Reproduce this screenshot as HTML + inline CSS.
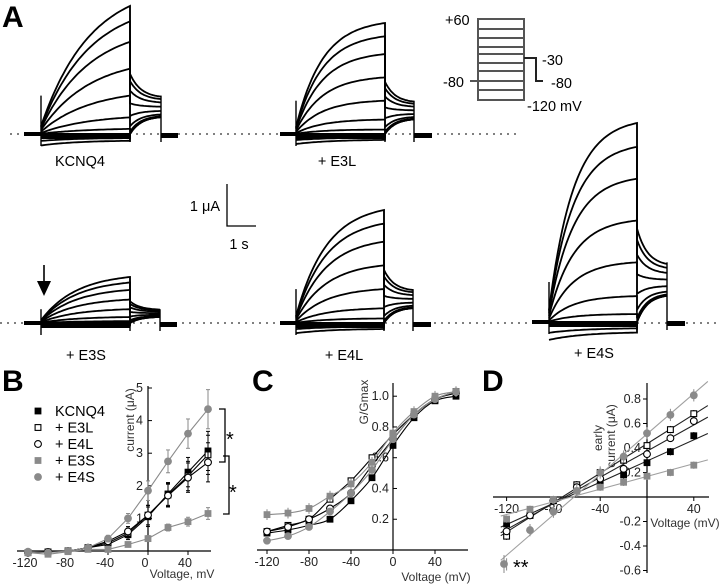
<!DOCTYPE html>
<html><head><meta charset="utf-8"><style>
html,body{margin:0;padding:0;background:#fff;}
svg{display:block;font-family:"Liberation Sans",sans-serif;}
</style></head><body>
<svg id="fig" width="720" height="586" viewBox="0 0 720 586">
<g id="panelA">
<text x="2" y="27" font-size="30" font-weight="bold">A</text>
<line x1="10" y1="134" x2="520" y2="134" stroke="#000" stroke-width="1" stroke-dasharray="2,5"/>
<line x1="0" y1="323" x2="720" y2="323" stroke="#000" stroke-width="1" stroke-dasharray="2,5"/>
<text x="80" y="166" font-size="14.5" text-anchor="middle">KCNQ4</text>
<text x="337" y="166" font-size="14.5" text-anchor="middle">+ E3L</text>
<text x="86" y="360" font-size="14.5" text-anchor="middle">+ E3S</text>
<text x="344" y="360" font-size="14.5" text-anchor="middle">+ E4L</text>
<text x="594" y="358" font-size="14.5" text-anchor="middle">+ E4S</text>
<g>
<polyline points="227,184 227,226 256,226" fill="none" stroke="#000" stroke-width="1.3"/>
<text x="220" y="211" font-size="14.5" text-anchor="end">1 μA</text>
<text x="239" y="249" font-size="14.5" text-anchor="middle">1 s</text>
</g>
<g stroke="#555" stroke-width="2" fill="none">
<rect x="478" y="19" width="46" height="81"/>
<line x1="478" y1="29" x2="524" y2="29"/><line x1="478" y1="38" x2="524" y2="38"/>
<line x1="478" y1="47" x2="524" y2="47"/><line x1="478" y1="54" x2="524" y2="54"/>
<line x1="478" y1="63" x2="524" y2="63"/><line x1="478" y1="71" x2="524" y2="71"/>
<line x1="478" y1="81" x2="524" y2="81"/><line x1="478" y1="90" x2="524" y2="90"/>
<line x1="470" y1="81" x2="478" y2="81"/>
<polyline points="524,58 536,58 536,81 543,81" stroke="#222"/>
</g>
<g font-size="14.5">
<text x="445" y="25">+60</text>
<text x="464" y="87" text-anchor="end">-80</text>
<text x="542" y="65">-30</text>
<text x="551" y="88">-80</text>
<text x="527" y="111">-120 mV</text>
</g>
<polygon points="37,281 51,281 44,296" fill="#000"/>
<line x1="44" y1="265" x2="44" y2="284" stroke="#000" stroke-width="1.6"/>
</g>
<g id="panelB"></g>
<g id="panelC"></g>
<g id="panelD"></g>
</svg>
<script>
// ---- Panel A trace data (fraction of max amplitude per voltage step) ----
const stepFractions = [1, 0.88, 0.72, 0.51, 0.3, 0.13, 0.04, -0.01, -0.03, -0.05];
const kcnq4Max = 128, e3lMax = 111, e3sMax = 46, e4lMax = 113, e4sMax = 199;
// ---- Panel B ----
const voltsB = [-120,-100,-80,-60,-40,-20,0,20,40,60];
const bKCNQ4 = [-0.05,-0.03,0,0.1,0.2,0.5,1.05,1.75,2.42,3.07];
const bE3L = [-0.05,-0.03,0,0.1,0.25,0.55,1.1,1.72,2.3,2.95];
const bE4L = [-0.05,-0.03,0,0.1,0.3,0.6,1.1,1.7,2.25,2.72];
const bE3S = [-0.05,-0.1,-0.02,0.05,0.05,0.2,0.38,0.72,0.9,1.15];
const bE4S = [-0.02,-0.05,0,0.1,0.38,1.0,1.85,2.75,3.6,4.35];
const bErr = [0.05,0.05,0.05,0.05,0.1,0.15,0.3,0.35,0.45,0.6];
const bTicksX = [-120,-80,-40,0,40];
const bTicksY = [1,2,3,4,5];
// ---- Panel C ----
const voltsC = [-120,-100,-80,-60,-40,-20,0,20,40,60];
const cKCNQ4 = [0.11,0.13,0.16,0.2,0.32,0.47,0.68,0.86,0.97,1.0];
const cE3L = [0.12,0.16,0.2,0.33,0.45,0.6,0.75,0.88,0.98,1.03];
const cE4L = [0.12,0.15,0.2,0.27,0.37,0.55,0.72,0.88,0.98,1.02];
const cE3S = [0.23,0.24,0.27,0.35,0.43,0.57,0.76,0.9,1.0,1.03];
const cE4S = [0.06,0.09,0.15,0.25,0.37,0.52,0.72,0.88,0.98,1.03];
const cTicksX = [-120,-80,-40,0,40];
const cTicksY = [0.2,0.4,0.6,0.8,1.0];
// ---- Panel D ----
const voltsD = [-120,-100,-80,-60,-40,-20,0,20,40];
const dKCNQ4 = [-0.22,-0.15,-0.03,0.06,0.1,0.18,0.28,0.37,0.5];
const dE3L = [-0.32,-0.15,-0.03,0.1,0.2,0.3,0.42,0.55,0.68];
const dE4L = [-0.28,-0.15,-0.03,0.08,0.15,0.23,0.35,0.48,0.62];
const dE3S = [-0.18,-0.1,-0.02,0.05,0.08,0.12,0.17,0.2,0.26];
const dE4S = [-0.55,-0.27,-0.12,0.05,0.2,0.33,0.52,0.67,0.83];
const dTicksX = [-120,-80,-40,40];
const dTicksY = [-0.6,-0.4,-0.2,0.2,0.4,0.6,0.8];

const NS = "http://www.w3.org/2000/svg";
function mk(parent, tag, attrs, text) {
  const e = document.createElementNS(NS, tag);
  for (const k in attrs) e.setAttribute(k, attrs[k]);
  if (text !== undefined) e.textContent = text;
  parent.appendChild(e);
  return e;
}
const GRAY = "#8a8a8a";
const TICK = 12.5, TITLE = 12;

// ---------- Panel A families ----------
function family(name, base, xs, x1, x2, x3, x4, maxAmp, tau) {
  const g = mk(document.getElementById('panelA'), 'g', {});
  
  
  const hold = mk(g, 'rect', {x: xs, y: base - 2, width: x1 - xs, height: 4, fill: '#000'});
  
  
  const band = mk(g, 'rect', {x: x1, y: base - 1, width: x2 - x1, height: 6, fill: '#000'});
  
  
  const post = mk(g, 'rect', {x: x3, y: base - 1, width: x4 - x3, height: 5, fill: '#000'});
  
  
  const cap = mk(g, 'line', {x1: x1, y1: base - Math.min(40, maxAmp * 0.3), x2: x1, y2: base + 12, stroke: '#000', 'stroke-width': 1.4});
  
  
  mk(g, 'line', {x1: x2, y1: base - maxAmp, x2: x2, y2: base + 8, stroke: '#000', 'stroke-width': 1.4});
  mk(g, 'line', {x1: x3, y1: base - maxAmp * 0.3, x2: x3, y2: base + 8, stroke: '#000', 'stroke-width': 1.4});
  const ss = maxAmp * 0.2;
  stepFractions.forEach((f, i) => {
    const amp = f * maxAmp;
    let d = '';
    const n = 40;
    for (let k = 0; k <= n; k++) {
      const t = k / n;
      const inst = amp < 0 ? amp * 1.8 : amp * 0.06;
      const v = amp < 0 ? inst + (amp - inst) * (1 - Math.exp(-t / 0.4)) : inst + (amp - inst) * (1 - Math.exp(-t / tau)) / (1 - Math.exp(-1 / tau));
      d += (k ? 'L' : 'M') + (x1 + t * (x2 - x1)).toFixed(1) + ',' + (base - v).toFixed(1);
    }
    const s = Math.max(amp * 0.47, 0);
    const e = ss + (s - ss) * 0.3;
    for (let k = 0; k <= 20; k++) {
      const t = k / 20;
      const v = e + (s - e) * Math.exp(-t / 0.35);
      d += 'L' + (x2 + t * (x3 - x2)).toFixed(1) + ',' + (base - v).toFixed(1);
    }
    const p = mk(g, 'path', {d: d, fill: 'none', stroke: '#000', 'stroke-width': 1.8});
    
    
  });
}
family('kcnq4', 134, 24, 41, 130, 161, 178, kcnq4Max, 0.55);
family('e3l', 134, 280, 296, 385, 414, 432, e3lMax, 0.3);
family('e3s', 323, 24, 41, 130, 160, 177, e3sMax, 0.4);
family('e4l', 323, 280, 296, 384, 413, 431, e4lMax, 0.35);
family('e4s', 322, 532, 549, 637, 667, 685, e4sMax, 0.28);

// ---------- marker helper ----------
function marker(g, kind, x, y, name) {
  let m;
  const s = 3.4;
  if (kind === 'fsq') m = mk(g, 'rect', {x: x - s, y: y - s, width: 2 * s, height: 2 * s, fill: '#000'});
  else if (kind === 'osq') m = mk(g, 'rect', {x: x - s + 0.5, y: y - s + 0.5, width: 2 * s - 1, height: 2 * s - 1, fill: '#fff', stroke: '#000', 'stroke-width': 1.1});
  else if (kind === 'oci') m = mk(g, 'circle', {cx: x, cy: y, r: s, fill: '#fff', stroke: '#000', 'stroke-width': 1.1});
  else if (kind === 'gsq') m = mk(g, 'rect', {x: x - s, y: y - s, width: 2 * s, height: 2 * s, fill: GRAY});
  else m = mk(g, 'circle', {cx: x, cy: y, r: s + 0.5, fill: GRAY});
  
  
}
const seriesStyle = [
  {key: 'kcnq4', kind: 'fsq', col: '#000'},
  {key: 'e3l', kind: 'osq', col: '#000'},
  {key: 'e4l', kind: 'oci', col: '#000'},
  {key: 'e3s', kind: 'gsq', col: GRAY},
  {key: 'e4s', kind: 'gci', col: GRAY}
];

// ---------- Panel B ----------
(function () {
  const g = document.getElementById('panelB');
  const X = v => 148 + v * 1.0, Y = i => 551 - i * 32.6;
  mk(g, 'text', {x: 2, y: 391, 'font-size': 30, 'font-weight': 'bold'}, 'B');
  const ax = mk(g, 'path', {d: 'M17,551H211M148,551V386', stroke: '#000', fill: 'none', 'stroke-width': 1.2});
  
  
  bTicksX.forEach(v => {
    mk(g, 'line', {x1: X(v), y1: 551, x2: X(v), y2: 555, stroke: '#000'});
    const t = mk(g, 'text', {x: X(v) - 3, y: 567, 'font-size': TICK, 'text-anchor': 'middle', fill: '#222'}, v);
    
    
  });
  bTicksY.forEach(v => {
    mk(g, 'line', {x1: 148, y1: Y(v), x2: 152, y2: Y(v), stroke: '#000'});
    const t = mk(g, 'text', {x: 143, y: Y(v) + 4, 'font-size': TICK, 'text-anchor': 'end', fill: '#222'}, v);
    
    
  });
  const yl = mk(g, 'text', {x: 0, y: 0, 'font-size': TITLE, 'text-anchor': 'middle', fill: '#333', transform: 'translate(134,420) rotate(-90)'}, 'current (μA)');
  
  
  const xl = mk(g, 'text', {x: 182, y: 578, 'font-size': TITLE, 'text-anchor': 'middle', fill: '#333'}, 'Voltage, mV');
  
  
  const data = [bKCNQ4, bE3L, bE4L, bE3S, bE4S];
  data.forEach((arr, si) => {
    const st = seriesStyle[si];
    const pts = arr.map((v, i) => X(voltsB[i]).toFixed(1) + ',' + Y(v).toFixed(1)).join(' ');
    const l = mk(g, 'polyline', {points: pts, fill: 'none', stroke: st.col, 'stroke-width': 1.1});
    
    
    arr.forEach((v, i) => {
      const e = bErr[i] * (si === 3 ? 0.3 : 1);
      mk(g, 'line', {x1: X(voltsB[i]), y1: Y(v - e), x2: X(voltsB[i]), y2: Y(v + e), stroke: st.col, 'stroke-width': 1});
      mk(g, 'line', {x1: X(voltsB[i]) - 2, y1: Y(v + e), x2: X(voltsB[i]) + 2, y2: Y(v + e), stroke: st.col});
      mk(g, 'line', {x1: X(voltsB[i]) - 2, y1: Y(v - e), x2: X(voltsB[i]) + 2, y2: Y(v - e), stroke: st.col});
    });
    arr.forEach((v, i) => marker(g, st.kind, X(voltsB[i]), Y(v), 'b-point-' + st.key));
  });
  const names = ['KCNQ4', '+ E3L', '+ E4L', '+ E3S', '+ E4S'];
  names.forEach((n, i) => {
    const y = 411 + i * 16.5;
    marker(g, seriesStyle[i].kind, 38, y, 'legend-marker-' + seriesStyle[i].key);
    const t = mk(g, 'text', {x: 55, y: y + 5, 'font-size': 14.5}, n);
    
    
  });
  mk(g, 'path', {d: 'M219,409H225V462H219', fill: 'none', stroke: '#000', 'stroke-width': 1.3});
  mk(g, 'path', {d: 'M223,456H229V514H223', fill: 'none', stroke: '#000', 'stroke-width': 1.3});
  mk(g, 'text', {x: 226, y: 446, 'font-size': 20}, '*');
  mk(g, 'text', {x: 229, y: 499, 'font-size': 20}, '*');
})();

// ---------- Panel C ----------
(function () {
  const g = document.getElementById('panelC');
  const X = v => 393 + v * 1.05, Y = v => 550 - v * 153.8;
  mk(g, 'text', {x: 252, y: 391, 'font-size': 30, 'font-weight': 'bold'}, 'C');
  const ax = mk(g, 'path', {d: 'M257,550H468M393,550V383', stroke: '#000', fill: 'none', 'stroke-width': 1.2});
  
  
  cTicksX.forEach(v => {
    mk(g, 'line', {x1: X(v), y1: 550, x2: X(v), y2: 554, stroke: '#000'});
    const t = mk(g, 'text', {x: X(v), y: 566, 'font-size': TICK, 'text-anchor': 'middle', fill: '#222'}, v);
    
    
  });
  cTicksY.forEach(v => {
    mk(g, 'line', {x1: 393, y1: Y(v), x2: 397, y2: Y(v), stroke: '#000'});
    const t = mk(g, 'text', {x: 389, y: Y(v) + 4, 'font-size': TICK, 'text-anchor': 'end', fill: '#222'}, v.toFixed(1));
    
    
  });
  const yl = mk(g, 'text', {x: 0, y: 0, 'font-size': TITLE, 'text-anchor': 'middle', fill: '#333', transform: 'translate(368,402) rotate(-90)'}, 'G/Gmax');
  
  
  const xl = mk(g, 'text', {x: 436, y: 581, 'font-size': TITLE, 'text-anchor': 'middle', fill: '#333'}, 'Voltage (mV)');
  
  
  const data = [cKCNQ4, cE3L, cE4L, cE3S, cE4S];
  data.forEach((arr, si) => {
    const st = seriesStyle[si];
    const P = arr.map((v, i) => [X(voltsC[i]), Y(v)]);
    let d = 'M' + P[0][0] + ',' + P[0][1];
    for (let i = 0; i < P.length - 1; i++) {
      const p0 = P[Math.max(i - 1, 0)], p1 = P[i], p2 = P[i + 1], p3 = P[Math.min(i + 2, P.length - 1)];
      d += 'C' + (p1[0] + (p2[0] - p0[0]) / 6) + ',' + (p1[1] + (p2[1] - p0[1]) / 6) + ' ' + (p2[0] - (p3[0] - p1[0]) / 6) + ',' + (p2[1] - (p3[1] - p1[1]) / 6) + ' ' + p2[0] + ',' + p2[1];
    }
    const l = mk(g, 'path', {d: d, fill: 'none', stroke: st.col, 'stroke-width': 1.1});
    
    
    arr.forEach((v, i) => {
      const e = si === 3 ? 0.035 : 0.02;
      mk(g, 'line', {x1: X(voltsC[i]), y1: Y(v - e), x2: X(voltsC[i]), y2: Y(v + e), stroke: st.col});
    });
    arr.forEach((v, i) => marker(g, st.kind, X(voltsC[i]), Y(v), 'c-point-' + st.key));
  });
})();

// ---------- Panel D ----------
(function () {
  const g = document.getElementById('panelD');
  const X = v => 647 + v * 1.17, Y = v => 497 - v * 122.5;
  mk(g, 'text', {x: 482, y: 391, 'font-size': 30, 'font-weight': 'bold'}, 'D');
  const ax = mk(g, 'path', {d: 'M493,497H709M647,383V573', stroke: '#000', fill: 'none', 'stroke-width': 1.2});
  
  
  dTicksX.forEach(v => {
    mk(g, 'line', {x1: X(v), y1: 497, x2: X(v), y2: 501, stroke: '#000'});
    const t = mk(g, 'text', {x: X(v), y: 513, 'font-size': TICK, 'text-anchor': 'middle', fill: '#222'}, v);
    
    
  });
  dTicksY.forEach(v => {
    mk(g, 'line', {x1: 643, y1: Y(v), x2: 647, y2: Y(v), stroke: '#000'});
    const t = mk(g, 'text', {x: 641, y: Y(v) + 4, 'font-size': TICK, 'text-anchor': 'end', fill: '#222'}, v.toFixed(1));
    
    
  });
  const y1 = mk(g, 'text', {x: 0, y: 0, 'font-size': TITLE, 'text-anchor': 'middle', fill: '#333', transform: 'translate(602,438) rotate(-90)'}, 'early');
  
  
  const y2 = mk(g, 'text', {x: 0, y: 0, 'font-size': TITLE, 'text-anchor': 'middle', fill: '#333', transform: 'translate(615,436) rotate(-90)'}, 'current (μA)');
  
  
  const xl = mk(g, 'text', {x: 685, y: 527, 'font-size': TITLE, 'text-anchor': 'middle', fill: '#333'}, 'Voltage (mV)');
  
  
  const data = [dKCNQ4, dE3L, dE4L, dE3S, dE4S];
  data.forEach((arr, si) => {
    const st = seriesStyle[si];
    const n = arr.length;
    const mx = voltsD.reduce((a, b) => a + b, 0) / n, my = arr.reduce((a, b) => a + b, 0) / n;
    let sxy = 0, sxx = 0;
    voltsD.forEach((v, i) => { sxy += (v - mx) * (arr[i] - my); sxx += (v - mx) * (v - mx); });
    const slope = sxy / sxx, ic = my - slope * mx;
    const l = mk(g, 'line', {x1: X(-125), y1: Y(ic + slope * -125), x2: X(52), y2: Y(ic + slope * 52), stroke: si >= 3 ? '#a0a0a0' : '#222', 'stroke-width': 1.1});
    
    
    arr.forEach((v, i) => {
      const e = si === 4 ? 0.05 : 0.03;
      mk(g, 'line', {x1: X(voltsD[i]), y1: Y(v - e), x2: X(voltsD[i]), y2: Y(v + e), stroke: st.col});
    });
    arr.forEach((v, i) => { if (!(si === 4 && i === 0)) marker(g, st.kind, X(voltsD[i]), Y(v), 'd-point-' + st.key); });
  });
  mk(g, 'line', {x1: 504, y1: 555, x2: 504, y2: 573, stroke: GRAY});
  marker(g, 'gci', 504, 564, 'd-point-e4s-outlier');
  mk(g, 'text', {x: 513, y: 574, 'font-size': 20}, '**');
})();
</script>
</body></html>
